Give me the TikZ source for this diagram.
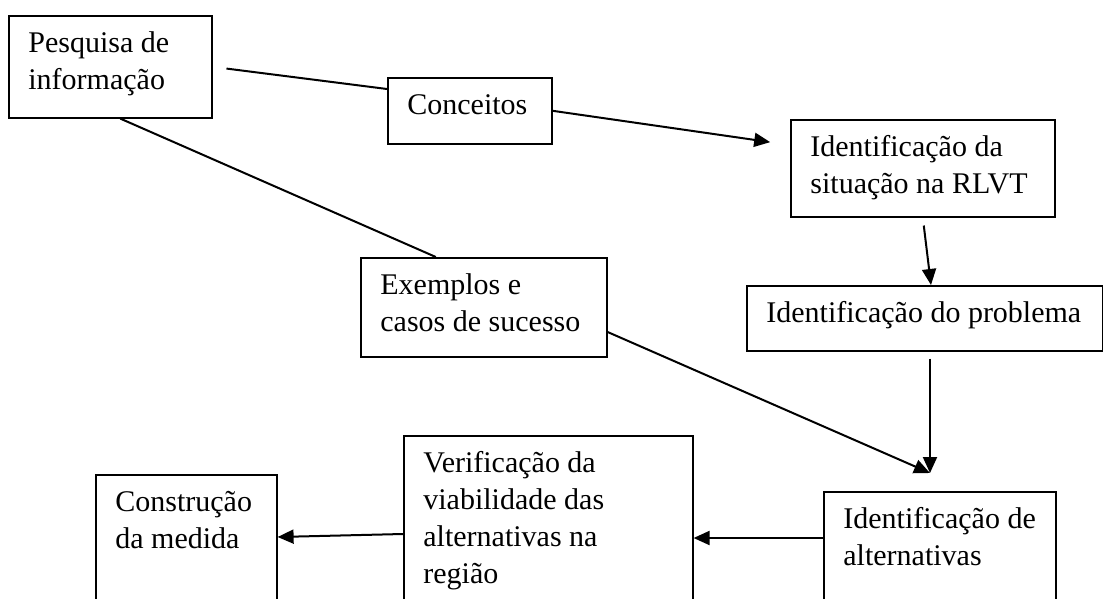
\documentclass[tikz,border=0pt]{standalone}
\usepackage{fontspec}
\setmainfont{Liberation Serif}
\usetikzlibrary{calc,arrows.meta}

\begin{document}
\begin{tikzpicture}[x=0.5pt,y=-0.5pt,
    caixa/.style={draw,line width=0.8pt,anchor=north west,inner sep=0pt},
    texto/.style={anchor=north west,inner sep=0pt,align=left,font=\fontsize{15}{18.5}\selectfont},
    liga/.style={line width=1pt},
    seta/.style={line width=1pt,-{Triangle[length=8pt,width=7pt]}}]
\useasboundingbox (0,0) rectangle (1103,599);
\clip (0,0) rectangle (1103,599);
\node[caixa,minimum width=101.5pt,minimum height=51pt](pesq)at(8,15){};
\node[caixa,minimum width=82pt,minimum height=33pt](conc)at(387,77){};
\node[caixa,minimum width=132pt,minimum height=48.5pt](sit)at(790,119){};
\node[caixa,minimum width=178pt,minimum height=32.5pt](prob)at(746,285){};
\node[caixa,minimum width=123pt,minimum height=49.5pt](exem)at(360,257){};
\node[caixa,minimum width=144.5pt,minimum height=100pt](verif)at(403,435){};
\node[caixa,minimum width=90.5pt,minimum height=100pt](constr)at(95,474){};
\node[caixa,minimum width=116pt,minimum height=100pt](alt)at(823,491){};
\node[texto](pesq-t)at([shift={(20,11)}]pesq.north west){\strut Pesquisa de\\informação};
\node[texto](conc-t)at([shift={(20,11)}]conc.north west){\strut Conceitos};
\node[texto](sit-t)at([shift={(20,11)}]sit.north west){\strut Identificação da\\situação na RLVT};
\node[texto](prob-t)at([shift={(20,11)}]prob.north west){\strut Identificação do problema};
\node[texto](exem-t)at([shift={(20,11)}]exem.north west){\strut Exemplos e\\casos de sucesso};
\node[texto](verif-t)at([shift={(20,11)}]verif.north west){\strut Verificação da\\viabilidade das\\alternativas na\\região};
\node[texto](constr-t)at([shift={(20,11)}]constr.north west){\strut Construção\\da medida};
\node[texto](alt-t)at([shift={(20,11)}]alt.north west){\strut Identificação de\\alternativas};
\coordinate (tip) at ($(alt.north west)+(107,-18)$);
\draw[liga,shorten <=7pt] (pesq.east) -- ($(conc.north west)+(0,12)$);
\draw[liga] ($(pesq.south)+(10,0)$) -- ($(exem.north)+(-48,0)$);
\draw[seta,shorten >=10pt] (conc.east) -- ($(sit.north west)+(0,26)$);
\draw[seta,shorten <=4pt] (sit.south) -- ($(prob.north west)+(185,0)$);
\draw[seta,shorten <=3.5pt] ($(prob.south west)+(184,0)$) -- (tip);
\draw[seta] ($(exem.north east)+(0,75)$) -- (tip);
\draw[seta] ($(alt.north west)+(0,47)$) -- ($(verif.north east)+(0,103)$);
\draw[seta] ($(verif.north west)+(0,99)$) -- ($(constr.north east)+(0,63)$);
\end{tikzpicture}
\end{document}
